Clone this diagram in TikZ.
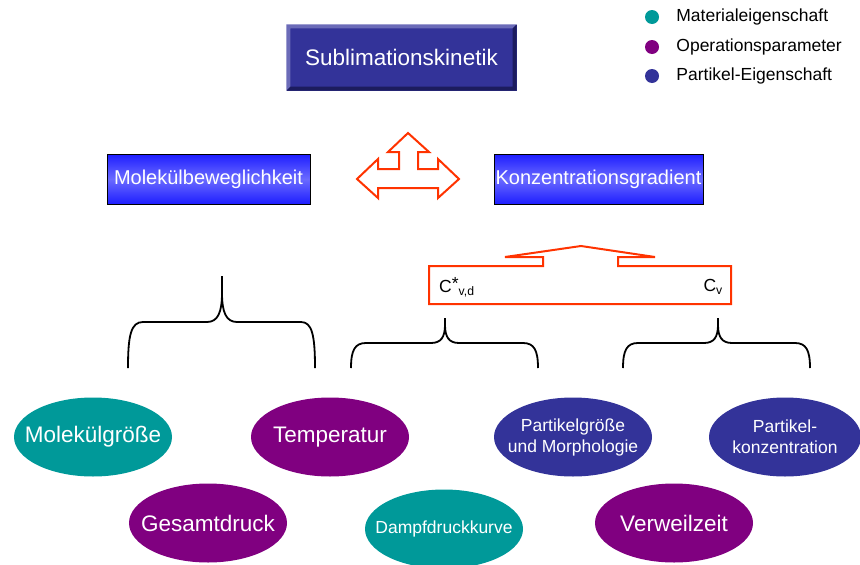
\documentclass[tikz,border=0pt]{standalone}
\usepackage{fontspec}
\setmainfont{Liberation Sans}
\usetikzlibrary{positioning,shapes.geometric}
\definecolor{matcol}{HTML}{009999}
\definecolor{opcol}{HTML}{800080}
\definecolor{partcol}{HTML}{333399}
\definecolor{redline}{HTML}{FF3300}
\definecolor{boxtop}{HTML}{1E1EFF}
\definecolor{boxmid}{HTML}{6A6AFF}
\definecolor{bevlight}{HTML}{6B6BB8}
\definecolor{bevdark}{HTML}{1C1C5E}

\begin{document}
\begin{tikzpicture}[x=1pt, y=-1pt,
  oval/.style={ellipse, fill=#1, text=white, minimum width=158pt, minimum height=79pt, inner sep=-30pt, align=center, font=\fontsize{22.5}{26}\selectfont},
  smalloval/.style={oval=#1, font=\fontsize{17.5}{21}\selectfont},
  bluebox/.style={draw=black, line width=0.8pt, top color=boxtop, bottom color=boxtop, middle color=boxmid, text=white, minimum height=50pt, inner sep=0pt, font=\fontsize{20}{24}\selectfont},
  dot/.style={circle, fill=#1, minimum size=14pt, inner sep=0pt},
  legtxt/.style={font=\fontsize{17.5}{21}\selectfont, inner sep=0pt, text height=12.5pt, text depth=3.5pt},
  ctxt/.style={font=\fontsize{17.5}{21}\selectfont, inner sep=0pt},
  brace/.style={line width=1.8pt},
  redarr/.style={draw=redline, line width=2pt, line join=miter}]
\useasboundingbox (0,0) rectangle (860,565);
\node[dot=matcol] (dmat) at (652,17) {};
\node[legtxt, right=17pt of dmat] (lmat) {Materialeigenschaft};
\node[dot=opcol] (dop) at (652,47) {};
\node[legtxt, right=17pt of dop] (lop) {Operationsparameter};
\node[dot=partcol] (dpart) at (652,76) {};
\node[legtxt, right=17pt of dpart] (lpart) {Partikel-Eigenschaft};
\node[fill=partcol, text=white, minimum width=230pt, minimum height=66pt, inner sep=0pt, font=\fontsize{22.5}{27}\selectfont] (kin) at (401.5,57.5) {Sublimationskinetik};
\fill[bevlight] (kin.south west) -- (kin.north west) -- (kin.north east) -- ([shift={(-4,4)}]kin.north east) -- ([shift={(4,4)}]kin.north west) -- ([shift={(4,-4)}]kin.south west) -- cycle;
\fill[bevdark] (kin.north east) -- (kin.south east) -- (kin.south west) -- ([shift={(4,-4)}]kin.south west) -- ([shift={(-4,-4)}]kin.south east) -- ([shift={(-4,4)}]kin.north east) -- cycle;
\node[bluebox, minimum width=203pt] (mobil) at (208.5,179) {Molekülbeweglichkeit};
\node[bluebox, minimum width=209pt] (konz) at (598.5,179) {Konzentrationsgradient};
\draw[redarr] (357,179) -- (378,159) -- (378,169) -- (399,169) -- (399,152) -- (388,152) -- (408,133) -- (429,152) -- (418,152) -- (418,169) -- (438,169) -- (438,159) -- (459,179) -- (438,198) -- (438,188) -- (378,188) -- (378,198) -- cycle;
\draw[redarr] (429,266) -- (543,266) -- (543,257) -- (505,257) -- (581,246) -- (655,257) -- (618,257) -- (618,266) -- (731,266) -- (731,304) -- (429,304) -- cycle;
\node[ctxt, anchor=west] (cvd) at (439,287) {C\raisebox{3pt}{*}\textsubscript{v,d}};
\node[ctxt, anchor=east] (cv) at (723,287) {C\textsubscript{v}};
\draw[brace] (128,368) .. controls (128,335) and (131,322) .. (143,322) -- (207,322) .. controls (218,322) and (222,312) .. (222,293) -- (222,276);
\draw[brace] (222,293) .. controls (222,312) and (226,322) .. (237,322) -- (301,322) .. controls (312,322) and (315,335) .. (315,368);
\draw[brace] (351,368) .. controls (351,350) and (355,343) .. (366,343) -- (431,343) .. controls (441,343) and (445,337) .. (445,325) -- (445,318);
\draw[brace] (445,325) .. controls (445,337) and (449,343) .. (459,343) -- (523,343) .. controls (534,343) and (538,350) .. (538,368);
\draw[brace] (623,368) .. controls (623,350) and (627,343) .. (638,343) -- (704,343) .. controls (714,343) and (718,337) .. (718,325) -- (718,318);
\draw[brace] (718,325) .. controls (718,337) and (722,343) .. (732,343) -- (795,343) .. controls (806,343) and (810,350) .. (810,368);
\node[oval=matcol] (molgr) at (93,437) {Molekülgröße};
\node[oval=opcol] (temp) at (330,437) {Temperatur};
\node[oval=opcol] (druck) at (208,523) {Gesamtdruck};
\node[smalloval=matcol] (dampf) at (444,529) {Dampfdruckkurve};
\node[smalloval=partcol] (pgroesse) at (573,437) {Partikelgröße\\und Morphologie};
\node[smalloval=partcol, minimum width=152pt] (pkonz) at (785,437) {Partikel-\\konzentration};
\node[oval=opcol] (verweil) at (674,523) {Verweilzeit};
\end{tikzpicture}
\end{document}
